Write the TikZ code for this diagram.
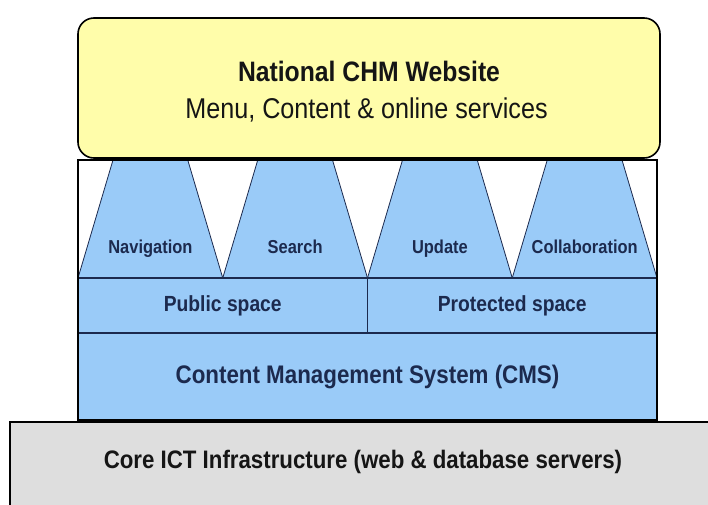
\documentclass[tikz,border=0pt]{standalone}
\usepackage{fontspec}
\setmainfont{Liberation Sans}[FakeStretch=0.88]
\usepackage{tikz}
\usetikzlibrary{positioning}
\definecolor{chmYellow}{HTML}{FFFDAA}
\definecolor{chmBlue}{HTML}{9ACBF8}
\definecolor{chmGray}{HTML}{DEDEDE}
\definecolor{chmNavy}{HTML}{1C2A4E}
\definecolor{chmInk}{HTML}{151515}

\begin{document}
\begin{tikzpicture}[x=1pt, y=-1pt,
  block/.style={inner sep=0pt, outer sep=0pt, anchor=north west},
  layer/.style={block, draw=chmNavy, line width=1.1pt, fill=chmBlue, text=chmNavy},
  tab/.style={draw=chmNavy, line width=0.8pt, fill=chmBlue},
  txt/.style={inner sep=0pt, text=chmNavy, font=\fontsize{#1}{#1}\selectfont\bfseries}
]
\path[use as bounding box, clip] (0,0) rectangle (708,504);
% base layer
\node[block, draw=black, line width=1.8pt, fill=chmGray, minimum width=720pt, minimum height=100pt] (core) at (10,422) {};
\node[txt=25.3, text=chmInk] (coretxt) at (363,462) {Core ICT Infrastructure (web \& database servers)};
% frame holding the portal layers
\def\xL{78} \def\xR{657} \def\yT{160} \def\yA{278} \def\yB{333} \def\yC{420}
\node[block, fill=white, minimum width=579pt, minimum height=260pt] (frm) at (\xL,\yT) {};
% service tabs
\foreach \name [count=\i from 0] in {Navigation, Search, Update, Collaboration}{
  \pgfmathsetmacro\xa{\xL+\i*144.75}
  \draw[tab] (\xa,\yA) -- (\xa+35,\yT) -- (\xa+109.75,\yT) -- (\xa+144.75,\yA) -- cycle;
  \node[txt=18.7, anchor=base] (tab\i) at (\xa+72.4,253) {\name};
}
% spaces and CMS
\node[layer, minimum width=289.5pt, minimum height=55pt, font=\fontsize{21.9}{22}\selectfont\bfseries] (pub) at (\xL,\yA) {Public space};
\node[layer, minimum width=289.5pt, minimum height=55pt, font=\fontsize{21.9}{22}\selectfont\bfseries] (prot) at (367.5,\yA) {Protected space};
\node[layer, minimum width=579pt, minimum height=87pt, font=\fontsize{25.4}{26}\selectfont\bfseries] (cms) at (\xL,\yB) {Content Management System (CMS)};
\draw[black, line width=1.8pt] (frm.north west) rectangle (frm.south east);
% website on top
\node[block, draw=black, line width=1.6pt, fill=chmYellow, rounded corners=16pt, minimum width=582pt, minimum height=140pt] (web) at (78,18) {};
\node[anchor=base, inner sep=0pt, text=chmInk, font=\fontsize{28.1}{30}\selectfont\bfseries] (title) at (369,81) {National CHM Website};
\node[anchor=base, inner sep=0pt, text=chmInk, font=\fontsize{28.6}{30}\selectfont] (subtitle) at (366.5,118) {Menu, Content \& online services};
\end{tikzpicture}
\end{document}
